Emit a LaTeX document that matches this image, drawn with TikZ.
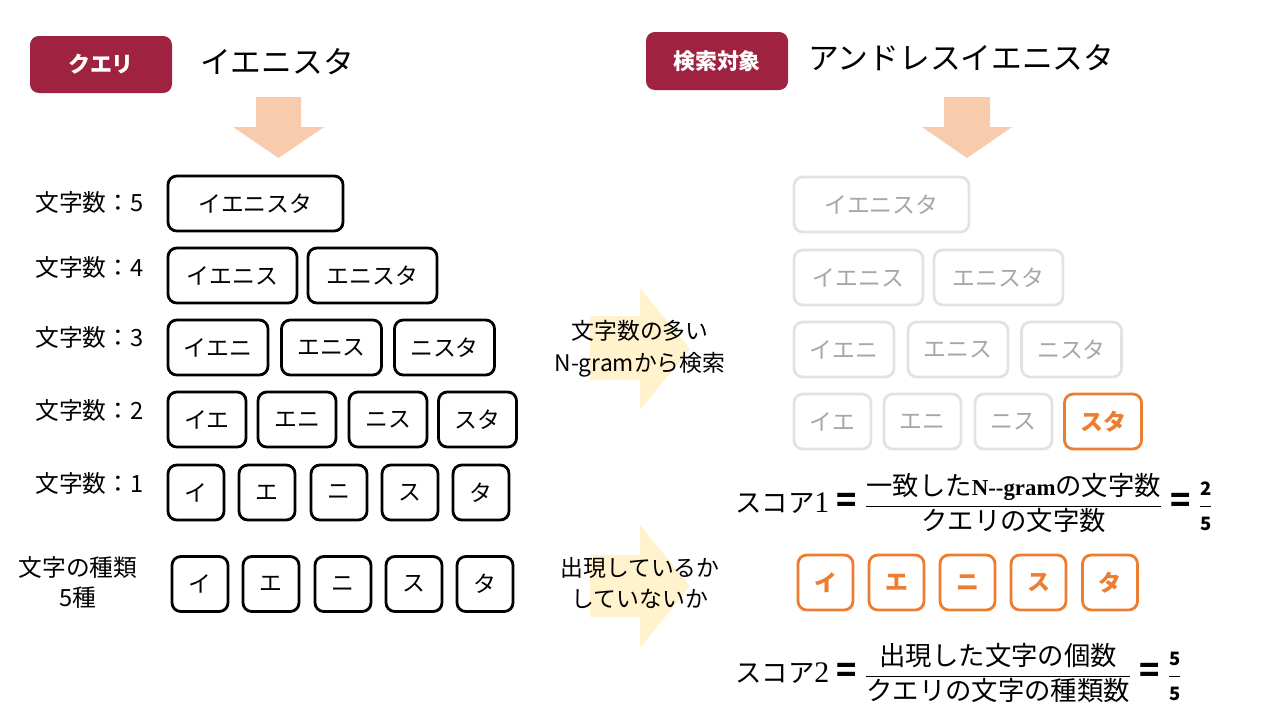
\RequirePackage{fix-cm}
\documentclass[tikz,border=0pt]{standalone}
\usepackage{fontspec}
\setmainfont{Noto Sans CJK JP}
\newfontfamily\serifb{Liberation Serif}
\definecolor{maroon}{HTML}{A02241}
\definecolor{peach}{HTML}{F8CBAD}
\definecolor{lightyel}{HTML}{FFF2CC}
\definecolor{orng}{HTML}{ED7D31}
\definecolor{lgray}{HTML}{E2E2E2}
\definecolor{tgray}{HTML}{A6A6A6}
\newcommand\meq{\mathrel{\mbox{\bfseries\fontsize{19}{19}\selectfont =}}}
\newcommand\smallfr[2]{\frac{\mbox{\fontsize{10.5}{11}\selectfont\bfseries #1}}{\mbox{\fontsize{10.5}{11}\selectfont\bfseries #2}}}
\tikzset{
  bw/.style={minimum width=#1*0.02cm},
  bx/.style={draw=black, line width=1.6pt, rounded corners=5pt, inner sep=0pt,
    font=\fontsize{13}{15}\selectfont, minimum height=55*0.02cm},
  gbx/.style={bx, draw=lgray, text=tgray},
  obx/.style={bx, draw=orng, text=orng, font=\fontsize{13}{15}\selectfont\bfseries},
  tag/.style={fill=maroon, rounded corners=5pt, text=white, inner sep=0pt,
    font=\fontsize{12.5}{15}\selectfont\bfseries},
  title/.style={font=\fontsize{17.5}{20}\selectfont, anchor=west, inner sep=0pt},
  rowlab/.style={font=\fontsize{13.5}{16}\selectfont, anchor=west, inner sep=0pt},
  midtxt/.style={font=\fontsize{13}{18}\selectfont, align=center, inner sep=0pt},
  formula/.style={font=\fontsize{15}{18}\selectfont, anchor=west, inner sep=0pt},
  downarrow/.style={fill=peach, draw=none},
  rightarrow/.style={fill=lightyel, draw=none}
}
\begin{document}
\begin{tikzpicture}[x=0.02cm, y=-0.02cm]
\path[use as bounding box] (0,0) rectangle (1280,720);
% tags and titles
\node[tag, bw=142, minimum height=57*0.02cm] (qtag) at (101,64.5) {クエリ};
\node[title] (qtitle) at (200,62) {イエニスタ};
\node[tag, bw=142, minimum height=58*0.02cm] (ttag) at (717,61) {検索対象};
\node[title] (ttitle) at (808,58) {アンドレスイエニスタ};
% down arrows
\fill[downarrow] (256,97)--(301,97)--(301,127)--(324,127)--(278.5,158)--(233,127)--(256,127)--cycle;
\fill[downarrow] (944,97)--(990,97)--(990,127)--(1012,127)--(967,158)--(922,127)--(944,127)--cycle;
% row labels
\node[rowlab] (l5) at (35,202) {文字数：5};
\node[rowlab] (l4) at (35,267) {文字数：4};
\node[rowlab] (l3) at (35,337) {文字数：3};
\node[rowlab] (l2) at (35,410) {文字数：2};
\node[rowlab] (l1) at (35,483) {文字数：1};
\node[midtxt, font=\fontsize{13.5}{17}\selectfont] (lk) at (78,582) {文字の種類\\5種};
% left boxes
\node[bx, bw=175] (a5) at (255.5,203.5) {イエニスタ};
\node[bx, bw=129] (a41) at (232.5,275.5) {イエニス};
\node[bx, bw=129] (a42) at (372.5,275.5) {エニスタ};
\node[bx, bw=100] (a31) at (218,347.5) {イエニ};
\node[bx, bw=100] (a32) at (331.5,347.5) {エニス};
\node[bx, bw=100] (a33) at (444.5,347.5) {ニスタ};
\node[bx, bw=78] (a21) at (207,419.5) {イエ};
\node[bx, bw=78] (a22) at (297,419.5) {エニ};
\node[bx, bw=78] (a23) at (388,419.5) {ニス};
\node[bx, bw=78] (a24) at (477.5,419.5) {スタ};
\node[bx, bw=56] (a11) at (196,492.5) {イ};
\node[bx, bw=56] (a12) at (267,492.5) {エ};
\node[bx, bw=56] (a13) at (339,492.5) {ニ};
\node[bx, bw=56] (a14) at (410,492.5) {ス};
\node[bx, bw=56] (a15) at (481,492.5) {タ};
\node[bx, bw=56] (k1) at (200,584) {イ};
\node[bx, bw=56] (k2) at (271,584) {エ};
\node[bx, bw=56] (k3) at (343,584) {ニ};
\node[bx, bw=56] (k4) at (414,584) {ス};
\node[bx, bw=56] (k5) at (485,584) {タ};
% middle arrows
\fill[rightarrow] (590,316)--(640,316)--(640,288)--(690,349)--(640,410)--(640,380)--(590,380)--cycle;
\node[midtxt] (m1) at (640,349) {文字数の多い\\N-gramから検索};
\fill[rightarrow] (590,555)--(640,555)--(640,525)--(690,586)--(640,648)--(640,617)--(590,617)--cycle;
\node[midtxt] (m2) at (640,583) {出現しているか\\していないか};
% right boxes
\node[gbx, bw=175] (b5) at (881.5,204.5) {イエニスタ};
\node[gbx, bw=129] (b41) at (858.5,277.5) {イエニス};
\node[gbx, bw=129] (b42) at (998.5,277.5) {エニスタ};
\node[gbx, bw=100] (b31) at (844,349.5) {イエニ};
\node[gbx, bw=100] (b32) at (958,349.5) {エニス};
\node[gbx, bw=100] (b33) at (1071.5,349.5) {ニスタ};
\node[gbx, bw=77] (b21) at (832.5,421.5) {イエ};
\node[gbx, bw=77] (b22) at (922.5,421.5) {エニ};
\node[gbx, bw=77] (b23) at (1013.5,421.5) {ニス};
\node[obx, bw=77] (b24) at (1103,421.5) {スタ};
\node[obx, bw=55] (c1) at (825.5,582.5) {イ};
\node[obx, bw=55] (c2) at (896.5,582.5) {エ};
\node[obx, bw=55] (c3) at (967.5,582.5) {ニ};
\node[obx, bw=55] (c4) at (1038.5,582.5) {ス};
\node[obx, bw=55] (c5) at (1110,582.5) {タ};
% formulas
\node[formula] (f1) at (735,503) {$\mbox{スコア{\serifb\fontsize{17}{17}\selectfont 1}}\meq\displaystyle\frac{\mbox{一致した{\serifb\bfseries\fontsize{13}{13}\selectfont N--gram}の文字数}}{\mbox{クエリの文字数}}\meq\smallfr{2}{5}$};
\node[formula] (f2) at (735,673) {$\mbox{スコア{\serifb\fontsize{17}{17}\selectfont 2}}\meq\displaystyle\frac{\mbox{出現した文字の個数}}{\mbox{クエリの文字の種類数}}\meq\smallfr{5}{5}$};
\end{tikzpicture}
\end{document}
